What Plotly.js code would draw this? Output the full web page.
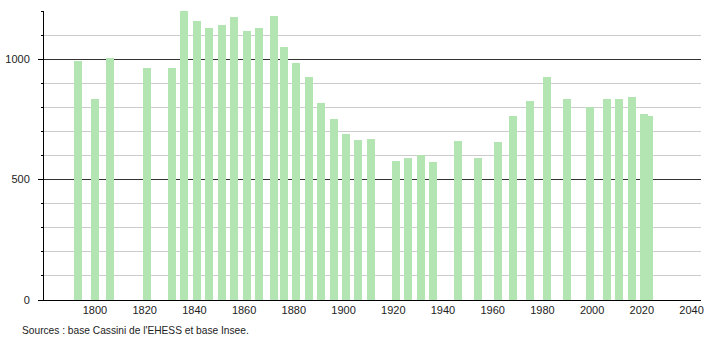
<!DOCTYPE html>
<html><head><meta charset="utf-8">
<script src="https://cdn.plot.ly/plotly-3.0.1.min.js"></script>
<style>body{margin:0;background:#fff}#c{width:710px;height:340px}</style>
</head><body><div id="c"></div>
<script>
const years = [1793,1800,1806,1821,1831,1836,1841,1846,1851,1856,1861,1866,1872,1876,1881,1886,1891,1896,1901,1906,1911,1921,1926,1931,1936,1946,1954,1962,1968,1975,1982,1990,1999,2006,2011,2016,2021,2023];
const population = [993,836,1003,965,965,1205,1158,1128,1141,1175,1119,1128,1179,1052,986,927,819,750,691,666,669,577,588,602,573,661,591,656,762,825,927,836,802,836,836,845,773,762];
const xTicks = [1800,1820,1840,1860,1880,1900,1920,1940,1960,1980,2000,2020,2040];
const yTicks = [0,500,1000];
const sourceText = "Sources : base Cassini de l'EHESS et base Insee.";

const font = {family:'"Liberation Sans", Arial, sans-serif', size:11, color:'#222'};
Plotly.newPlot('c', [{
  type:'bar', x:years, y:population, width:3.2,
  marker:{color:'#b2e5b2', line:{width:0}},
  hoverinfo:'x+y'
}], {
  width:710, height:340,
  margin:{l:44, r:9, t:11, b:40},
  paper_bgcolor:'#fff', plot_bgcolor:'#fff',
  font:font, showlegend:false, bargap:0,
  xaxis:{range:[1779.5,2043.8], tickvals:xTicks, ticktext:xTicks.map(String),
    showgrid:false, zeroline:false, showline:true, linecolor:'#000', linewidth:1,
    ticks:'', ticklen:0, tickfont:font, fixedrange:true},
  yaxis:{range:[0,1200], tickvals:yTicks, ticktext:yTicks.map(String),
    showgrid:true, gridcolor:'#333', gridwidth:1, zeroline:false,
    showline:true, linecolor:'#000', linewidth:1,
    ticks:'outside', ticklen:5, tickcolor:'#000', tickfont:font, ticklabelstandoff:6,
    minor:{dtick:100, tick0:0, ticks:'outside', ticklen:2, tickcolor:'#000', showgrid:true, gridcolor:'#ccc', gridwidth:1},
    fixedrange:true, layer:'below traces'},
  annotations:[{text:sourceText, xref:'paper', yref:'paper', x:-44/657+20/657, y:0, yshift:-30,
    xanchor:'left', yanchor:'middle', showarrow:false, font:{family:font.family, size:10.2, color:'#222'}}]
}, {staticPlot:true});
</script></body></html>
